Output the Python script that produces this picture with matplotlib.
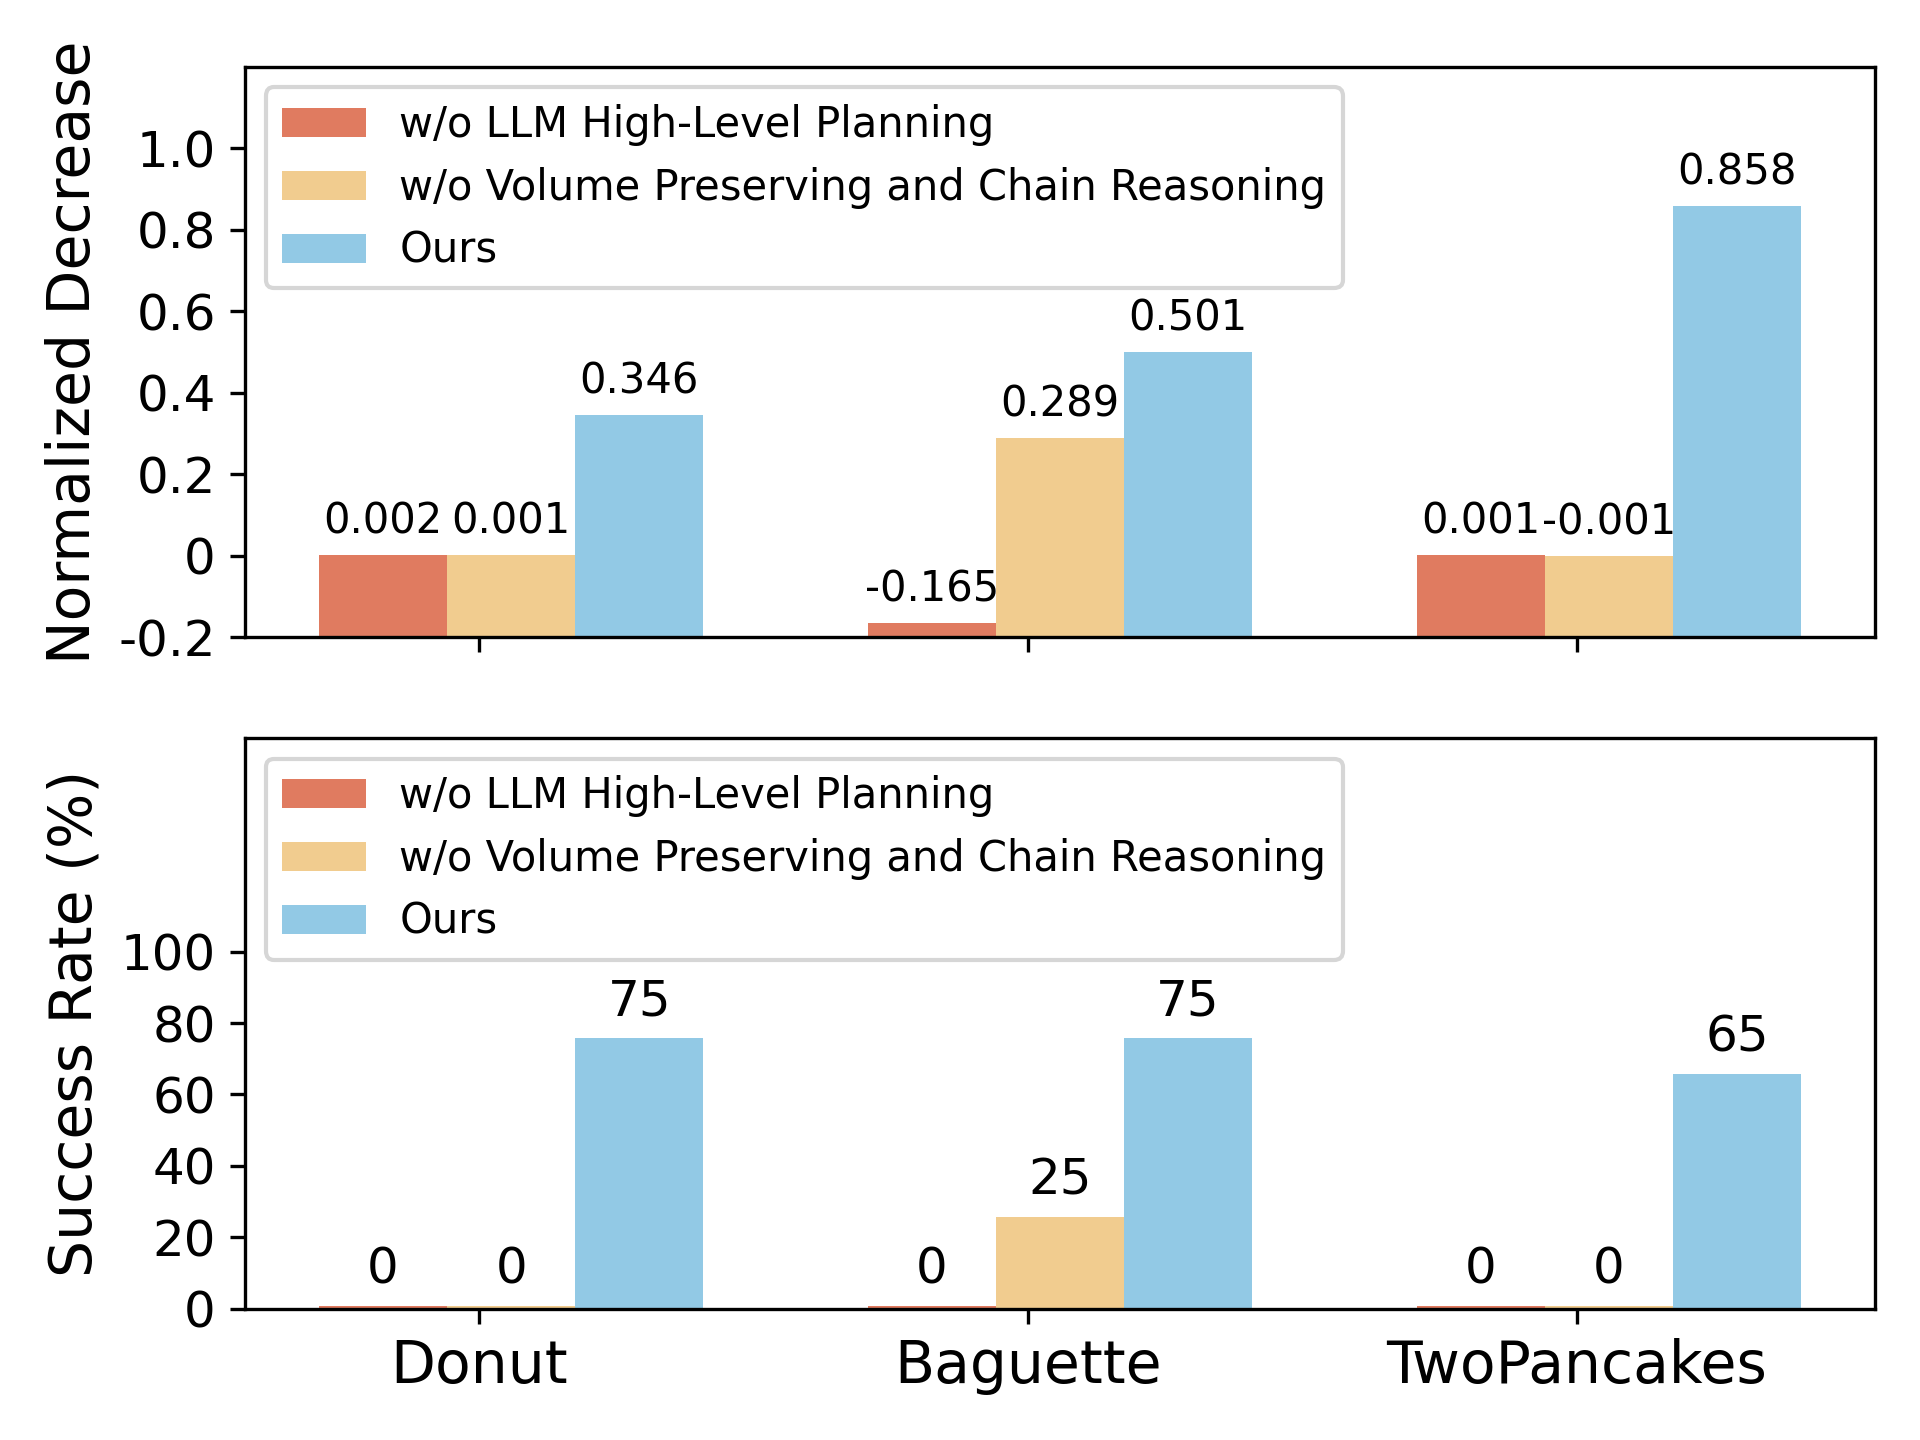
"""Ablation bar charts: normalized decrease and success rate per task."""

import matplotlib

matplotlib.use("Agg")
import matplotlib.pyplot as plt
import numpy as np

# Data
tasks = ["Donut", "Baguette", "TwoPancakes"]
methods = [
    "w/o LLM High-Level Planning",
    "w/o Volume Preserving and Chain Reasoning",
    "Ours",
]
normalized_decrease = {
    "w/o LLM High-Level Planning": [0.002, -0.165, 0.001],
    "w/o Volume Preserving and Chain Reasoning": [0.001, 0.289, -0.001],
    "Ours": [0.346, 0.501, 0.858],
}
success_rate = {
    "w/o LLM High-Level Planning": [0, 0, 0],
    "w/o Volume Preserving and Chain Reasoning": [0, 25, 0],
    "Ours": [75, 75, 65],
}
colors = ["#E07B60", "#F1CC8F", "#92C9E5"]

nd_ticks = [-0.2, 0, 0.2, 0.4, 0.6, 0.8, 1.0]
nd_ticklabels = ["-0.2", "0", "0.2", "0.4", "0.6", "0.8", "1.0"]
sr_ticks = [0, 20, 40, 60, 80, 100]

fig, (ax1, ax2) = plt.subplots(2, 1, figsize=(6.4, 4.8), sharex=True)

x = np.arange(len(tasks))
width = 0.7 / len(methods)
nd_floor = -0.2  # bars in the top panel start at the bottom of the axis
sr_lift = 0.7  # zero-valued bars are still drawn as a thin sliver

for i, method in enumerate(methods):
    pos = x + (i - 1) * width

    vals = np.array(normalized_decrease[method])
    bars = ax1.bar(pos, vals - nd_floor, width, bottom=nd_floor, color=colors[i], label=method)
    ax1.bar_label(bars, labels=[f"{v:.3f}" for v in vals], padding=3, fontsize=10)

    vals = np.array(success_rate[method])
    bars = ax2.bar(pos, vals + sr_lift, width, color=colors[i], label=method)
    ax2.bar_label(bars, labels=[f"{v}" for v in vals], padding=3, fontsize=12)

ax1.set_ylim(-0.2, 1.2)
ax1.set_yticks(nd_ticks, nd_ticklabels, fontsize=12)
ax1.set_ylabel("Normalized Decrease", fontsize=14)
ax1.legend(loc="upper left", fontsize=10)

ax2.set_ylim(0, 160)
ax2.set_yticks(sr_ticks, [str(t) for t in sr_ticks], fontsize=12)
ax2.set_ylabel("Success Rate (%)", fontsize=14)
ax2.legend(loc="upper left", fontsize=10)

ax2.set_xticks(x - width / 4)
ax2.set_xticklabels(tasks, fontsize=14)

fig.subplots_adjust(left=0.1276, right=0.9766, top=0.9538, bottom=0.0913, hspace=0.176)
fig.savefig("out.png", dpi=300)
